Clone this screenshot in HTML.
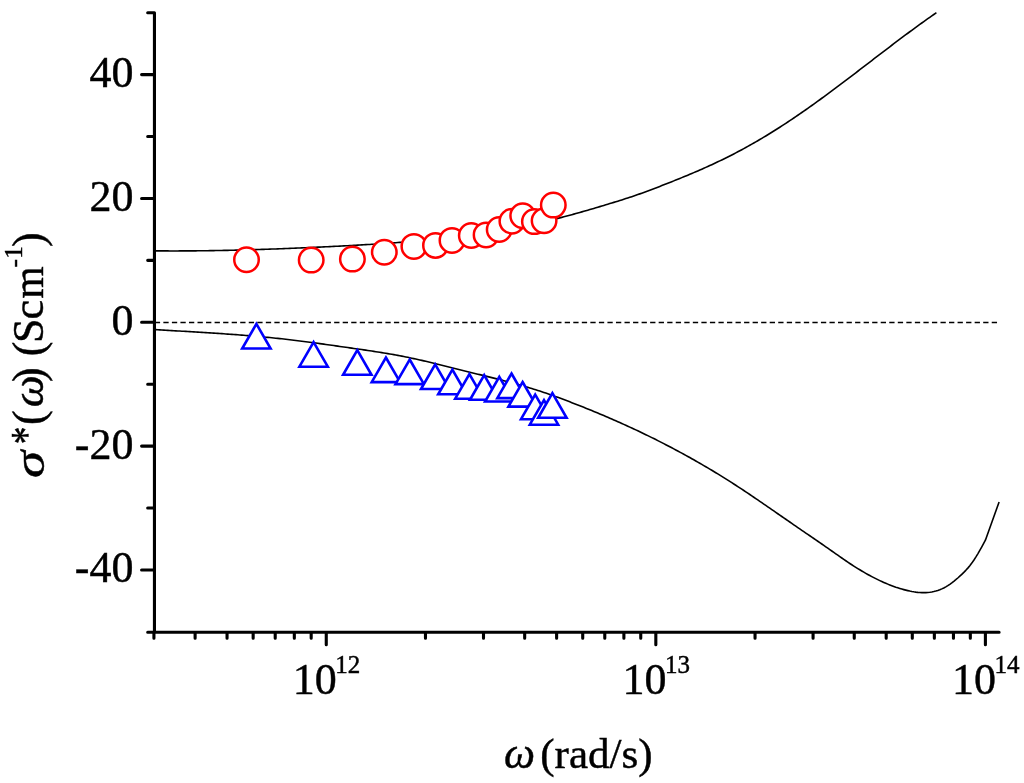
<!DOCTYPE html><html><head><meta charset="utf-8"><style>html,body{margin:0;padding:0;background:#fff;width:1024px;height:783px;overflow:hidden}svg{position:absolute;left:0;top:0;display:block;will-change:transform}text{font-family:"Liberation Serif",serif;stroke:#000;stroke-width:0.45px}</style></head><body>
<svg width="1024" height="783" viewBox="0 0 1024 783">
<line x1="154.81" y1="322.5" x2="999.1" y2="322.5" stroke="#000" stroke-width="1.4" stroke-dasharray="5.3 3.24"/>
<polyline points="155.8,250.86 157.8,250.88 159.8,250.89 161.8,250.90 163.8,250.91 165.8,250.92 167.8,250.92 169.8,250.93 171.8,250.93 173.8,250.93 175.8,250.93 177.8,250.93 179.8,250.92 181.8,250.92 183.8,250.91 185.8,250.90 187.8,250.89 189.8,250.88 191.8,250.86 193.8,250.84 195.8,250.83 197.8,250.81 199.8,250.79 201.8,250.76 203.8,250.74 205.8,250.71 207.8,250.69 209.8,250.66 211.8,250.63 213.8,250.60 215.8,250.56 217.8,250.53 219.8,250.49 221.8,250.45 223.8,250.41 225.8,250.37 227.8,250.33 229.8,250.29 231.8,250.24 233.8,250.20 235.8,250.15 237.8,250.10 239.8,250.05 241.8,250.00 243.8,249.95 245.8,249.89 247.8,249.84 249.8,249.78 251.8,249.72 253.8,249.66 255.8,249.60 257.8,249.54 259.8,249.48 261.8,249.41 263.8,249.35 265.8,249.28 267.8,249.21 269.8,249.14 271.8,249.07 273.8,249.00 275.8,248.93 277.8,248.85 279.8,248.78 281.8,248.70 283.8,248.63 285.8,248.55 287.8,248.47 289.8,248.39 291.8,248.31 293.8,248.23 295.8,248.15 297.8,248.06 299.8,247.98 301.8,247.89 303.8,247.80 305.8,247.72 307.8,247.63 309.8,247.54 311.8,247.45 313.8,247.36 315.8,247.27 317.8,247.17 319.8,247.08 321.8,246.98 323.8,246.89 325.8,246.79 327.8,246.70 329.8,246.60 331.8,246.50 333.8,246.40 335.8,246.30 337.8,246.20 339.8,246.10 341.8,246.00 343.8,245.89 345.8,245.79 347.8,245.68 349.8,245.57 351.8,245.47 353.8,245.36 355.8,245.25 357.8,245.14 359.8,245.02 361.8,244.91 363.8,244.79 365.8,244.67 367.8,244.55 369.8,244.43 371.8,244.31 373.8,244.19 375.8,244.06 377.8,243.93 379.8,243.80 381.8,243.67 383.8,243.54 385.8,243.40 387.8,243.26 389.8,243.12 391.8,242.98 393.8,242.84 395.8,242.69 397.8,242.54 399.8,242.39 401.8,242.23 403.8,242.08 405.8,241.92 407.8,241.76 409.8,241.59 411.8,241.43 413.8,241.26 415.8,241.08 417.8,240.91 419.8,240.73 421.8,240.55 423.8,240.36 425.8,240.17 427.8,239.98 429.8,239.79 431.8,239.59 433.8,239.39 435.8,239.19 437.8,238.98 439.8,238.77 441.8,238.56 443.8,238.34 445.8,238.12 447.8,237.89 449.8,237.66 451.8,237.43 453.8,237.19 455.8,236.95 457.8,236.71 459.8,236.46 461.8,236.21 463.8,235.95 465.8,235.69 467.8,235.43 469.8,235.16 471.8,234.89 473.8,234.61 475.8,234.33 477.8,234.04 479.8,233.75 481.8,233.46 483.8,233.16 485.8,232.85 487.8,232.55 489.8,232.23 491.8,231.91 493.8,231.59 495.8,231.26 497.8,230.93 499.8,230.59 501.8,230.25 503.8,229.90 505.8,229.55 507.8,229.19 509.8,228.82 511.8,228.46 513.8,228.08 515.8,227.70 517.8,227.32 519.8,226.93 521.8,226.53 523.8,226.13 525.8,225.72 527.8,225.31 529.8,224.89 531.8,224.46 533.8,224.03 535.8,223.59 537.8,223.15 539.8,222.70 541.8,222.25 543.8,221.79 545.8,221.32 547.8,220.85 549.8,220.37 551.8,219.88 553.8,219.39 555.8,218.89 557.8,218.39 559.8,217.87 561.8,217.36 563.8,216.83 565.8,216.30 567.8,215.77 569.8,215.23 571.8,214.68 573.8,214.13 575.8,213.58 577.8,213.02 579.8,212.45 581.8,211.89 583.8,211.31 585.8,210.74 587.8,210.16 589.8,209.58 591.8,208.99 593.8,208.40 595.8,207.81 597.8,207.21 599.8,206.62 601.8,206.02 603.8,205.42 605.8,204.81 607.8,204.21 609.8,203.60 611.8,202.99 613.8,202.38 615.8,201.77 617.8,201.15 619.8,200.52 621.8,199.89 623.8,199.26 625.8,198.61 627.8,197.96 629.8,197.31 631.8,196.64 633.8,195.96 635.8,195.28 637.8,194.58 639.8,193.88 641.8,193.17 643.8,192.44 645.8,191.71 647.8,190.97 649.8,190.23 651.8,189.47 653.8,188.71 655.8,187.95 657.8,187.18 659.8,186.40 661.8,185.62 663.8,184.84 665.8,184.05 667.8,183.26 669.8,182.46 671.8,181.67 673.8,180.87 675.8,180.06 677.8,179.26 679.8,178.44 681.8,177.63 683.8,176.81 685.8,175.98 687.8,175.15 689.8,174.31 691.8,173.47 693.8,172.62 695.8,171.76 697.8,170.90 699.8,170.03 701.8,169.16 703.8,168.27 705.8,167.38 707.8,166.48 709.8,165.57 711.8,164.65 713.8,163.73 715.8,162.79 717.8,161.84 719.8,160.89 721.8,159.92 723.8,158.95 725.8,157.96 727.8,156.97 729.8,155.96 731.8,154.95 733.8,153.92 735.8,152.88 737.8,151.83 739.8,150.77 741.8,149.70 743.8,148.62 745.8,147.52 747.8,146.42 749.8,145.30 751.8,144.17 753.8,143.03 755.8,141.88 757.8,140.72 759.8,139.54 761.8,138.36 763.8,137.16 765.8,135.95 767.8,134.74 769.8,133.51 771.8,132.27 773.8,131.02 775.8,129.76 777.8,128.49 779.8,127.21 781.8,125.92 783.8,124.62 785.8,123.32 787.8,122.00 789.8,120.67 791.8,119.34 793.8,117.99 795.8,116.64 797.8,115.27 799.8,113.90 801.8,112.52 803.8,111.13 805.8,109.73 807.8,108.33 809.8,106.91 811.8,105.49 813.8,104.06 815.8,102.62 817.8,101.18 819.8,99.73 821.8,98.27 823.8,96.81 825.8,95.34 827.8,93.87 829.8,92.39 831.8,90.90 833.8,89.41 835.8,87.92 837.8,86.42 839.8,84.91 841.8,83.41 843.8,81.90 845.8,80.38 847.8,78.86 849.8,77.34 851.8,75.82 853.8,74.30 855.8,72.77 857.8,71.24 859.8,69.71 861.8,68.18 863.8,66.65 865.8,65.12 867.8,63.58 869.8,62.05 871.8,60.52 873.8,58.98 875.8,57.45 877.8,55.92 879.8,54.39 881.8,52.86 883.8,51.33 885.8,49.81 887.8,48.29 889.8,46.77 891.8,45.25 893.8,43.73 895.8,42.22 897.8,40.71 899.8,39.21 901.8,37.71 903.8,36.21 905.8,34.72 907.8,33.24 909.8,31.76 911.8,30.28 913.8,28.81 915.8,27.35 917.8,25.89 919.8,24.44 921.8,22.99 923.8,21.56 925.8,20.12 927.8,18.70 929.8,17.29 931.8,15.88 933.8,14.48 935.8,13.09 936.4,12.67" fill="none" stroke="#000" stroke-width="1.6" stroke-linejoin="round"/>
<polyline points="155.8,329.63 157.8,329.75 159.8,329.87 161.8,329.99 163.8,330.11 165.8,330.23 167.8,330.35 169.8,330.47 171.8,330.59 173.8,330.71 175.8,330.83 177.8,330.94 179.8,331.06 181.8,331.18 183.8,331.30 185.8,331.42 187.8,331.54 189.8,331.65 191.8,331.77 193.8,331.89 195.8,332.01 197.8,332.14 199.8,332.26 201.8,332.38 203.8,332.50 205.8,332.63 207.8,332.75 209.8,332.88 211.8,333.01 213.8,333.14 215.8,333.27 217.8,333.40 219.8,333.53 221.8,333.67 223.8,333.80 225.8,333.94 227.8,334.08 229.8,334.22 231.8,334.37 233.8,334.51 235.8,334.66 237.8,334.81 239.8,334.96 241.8,335.12 243.8,335.28 245.8,335.44 247.8,335.60 249.8,335.76 251.8,335.93 253.8,336.10 255.8,336.27 257.8,336.45 259.8,336.63 261.8,336.81 263.8,337.00 265.8,337.19 267.8,337.38 269.8,337.57 271.8,337.77 273.8,337.98 275.8,338.18 277.8,338.39 279.8,338.60 281.8,338.82 283.8,339.04 285.8,339.27 287.8,339.50 289.8,339.73 291.8,339.97 293.8,340.21 295.8,340.45 297.8,340.70 299.8,340.95 301.8,341.21 303.8,341.46 305.8,341.72 307.8,341.98 309.8,342.25 311.8,342.52 313.8,342.79 315.8,343.06 317.8,343.33 319.8,343.61 321.8,343.88 323.8,344.16 325.8,344.44 327.8,344.72 329.8,345.01 331.8,345.29 333.8,345.57 335.8,345.86 337.8,346.14 339.8,346.43 341.8,346.72 343.8,347.00 345.8,347.29 347.8,347.57 349.8,347.86 351.8,348.15 353.8,348.43 355.8,348.72 357.8,349.00 359.8,349.29 361.8,349.58 363.8,349.87 365.8,350.16 367.8,350.46 369.8,350.76 371.8,351.06 373.8,351.36 375.8,351.67 377.8,351.98 379.8,352.30 381.8,352.62 383.8,352.94 385.8,353.27 387.8,353.61 389.8,353.95 391.8,354.29 393.8,354.65 395.8,355.01 397.8,355.37 399.8,355.75 401.8,356.13 403.8,356.52 405.8,356.92 407.8,357.32 409.8,357.74 411.8,358.16 413.8,358.60 415.8,359.03 417.8,359.48 419.8,359.93 421.8,360.39 423.8,360.86 425.8,361.33 427.8,361.80 429.8,362.28 431.8,362.76 433.8,363.25 435.8,363.73 437.8,364.22 439.8,364.72 441.8,365.21 443.8,365.71 445.8,366.20 447.8,366.70 449.8,367.19 451.8,367.69 453.8,368.19 455.8,368.69 457.8,369.19 459.8,369.68 461.8,370.18 463.8,370.68 465.8,371.18 467.8,371.68 469.8,372.17 471.8,372.67 473.8,373.17 475.8,373.66 477.8,374.16 479.8,374.65 481.8,375.14 483.8,375.63 485.8,376.13 487.8,376.62 489.8,377.12 491.8,377.61 493.8,378.11 495.8,378.61 497.8,379.12 499.8,379.62 501.8,380.13 503.8,380.65 505.8,381.17 507.8,381.69 509.8,382.22 511.8,382.76 513.8,383.30 515.8,383.85 517.8,384.40 519.8,384.97 521.8,385.54 523.8,386.12 525.8,386.70 527.8,387.30 529.8,387.91 531.8,388.53 533.8,389.15 535.8,389.79 537.8,390.44 539.8,391.09 541.8,391.76 543.8,392.43 545.8,393.11 547.8,393.80 549.8,394.50 551.8,395.21 553.8,395.92 555.8,396.64 557.8,397.37 559.8,398.10 561.8,398.84 563.8,399.59 565.8,400.34 567.8,401.10 569.8,401.87 571.8,402.64 573.8,403.41 575.8,404.19 577.8,404.98 579.8,405.77 581.8,406.56 583.8,407.36 585.8,408.16 587.8,408.97 589.8,409.78 591.8,410.60 593.8,411.42 595.8,412.25 597.8,413.08 599.8,413.91 601.8,414.76 603.8,415.60 605.8,416.46 607.8,417.31 609.8,418.18 611.8,419.05 613.8,419.92 615.8,420.80 617.8,421.68 619.8,422.57 621.8,423.47 623.8,424.37 625.8,425.28 627.8,426.19 629.8,427.11 631.8,428.03 633.8,428.96 635.8,429.90 637.8,430.84 639.8,431.79 641.8,432.74 643.8,433.70 645.8,434.67 647.8,435.64 649.8,436.62 651.8,437.60 653.8,438.59 655.8,439.59 657.8,440.60 659.8,441.61 661.8,442.62 663.8,443.65 665.8,444.68 667.8,445.71 669.8,446.76 671.8,447.81 673.8,448.86 675.8,449.93 677.8,451.00 679.8,452.08 681.8,453.16 683.8,454.25 685.8,455.35 687.8,456.46 689.8,457.57 691.8,458.69 693.8,459.82 695.8,460.96 697.8,462.10 699.8,463.25 701.8,464.41 703.8,465.57 705.8,466.74 707.8,467.92 709.8,469.11 711.8,470.31 713.8,471.51 715.8,472.72 717.8,473.94 719.8,475.17 721.8,476.40 723.8,477.65 725.8,478.90 727.8,480.16 729.8,481.42 731.8,482.70 733.8,483.98 735.8,485.28 737.8,486.58 739.8,487.88 741.8,489.20 743.8,490.52 745.8,491.85 747.8,493.19 749.8,494.53 751.8,495.88 753.8,497.23 755.8,498.59 757.8,499.95 759.8,501.31 761.8,502.68 763.8,504.05 765.8,505.43 767.8,506.81 769.8,508.19 771.8,509.57 773.8,510.95 775.8,512.33 777.8,513.72 779.8,515.11 781.8,516.49 783.8,517.88 785.8,519.26 787.8,520.65 789.8,522.03 791.8,523.41 793.8,524.79 795.8,526.17 797.8,527.55 799.8,528.92 801.8,530.30 803.8,531.67 805.8,533.04 807.8,534.41 809.8,535.77 811.8,537.14 813.8,538.51 815.8,539.89 817.8,541.26 819.8,542.64 821.8,544.02 823.8,545.40 825.8,546.79 827.8,548.18 829.8,549.58 831.8,550.98 833.8,552.39 835.8,553.80 837.8,555.21 839.8,556.62 841.8,558.02 843.8,559.40 845.8,560.77 847.8,562.13 849.8,563.46 851.8,564.77 853.8,566.06 855.8,567.33 857.8,568.57 859.8,569.80 861.8,570.99 863.8,572.17 865.8,573.32 867.8,574.44 869.8,575.54 871.8,576.61 873.8,577.65 875.8,578.66 877.8,579.65 879.8,580.61 881.8,581.53 883.8,582.43 885.8,583.30 887.8,584.13 889.8,584.94 891.8,585.71 893.8,586.44 895.8,587.15 897.8,587.81 899.8,588.45 901.8,589.05 903.8,589.61 905.8,590.13 907.8,590.62 909.8,591.07 911.8,591.47 913.8,591.82 915.8,592.12 917.8,592.35 919.8,592.52 921.8,592.63 923.8,592.66 925.8,592.61 927.8,592.48 929.8,592.27 931.8,591.96 933.8,591.55 935.8,591.05 937.8,590.44 939.8,589.72 941.8,588.88 943.8,587.92 945.8,586.85 947.8,585.64 949.8,584.32 951.8,582.89 953.8,581.35 955.8,579.72 957.8,578.00 959.8,576.20 961.8,574.32 963.8,572.37 965.8,570.32 967.8,568.12 969.8,565.72 971.8,563.09 973.8,560.22 975.8,557.13 977.8,553.86 979.8,550.42 981.8,546.84 983.8,543.17 985.4,540.17 992.2,521.2 999.1,502.0" fill="none" stroke="#000" stroke-width="1.6" stroke-linejoin="round"/>
<path d="M256.40,323.90 L270.60,348.50 L242.20,348.50 Z" fill="#fff" stroke="#00f" stroke-width="2.6" stroke-linejoin="miter" stroke-miterlimit="4"/>
<path d="M313.60,342.10 L327.80,366.70 L299.40,366.70 Z" fill="#fff" stroke="#00f" stroke-width="2.6" stroke-linejoin="miter" stroke-miterlimit="4"/>
<path d="M357.30,350.20 L371.50,374.80 L343.10,374.80 Z" fill="#fff" stroke="#00f" stroke-width="2.6" stroke-linejoin="miter" stroke-miterlimit="4"/>
<path d="M385.90,357.50 L400.10,382.10 L371.70,382.10 Z" fill="#fff" stroke="#00f" stroke-width="2.6" stroke-linejoin="miter" stroke-miterlimit="4"/>
<path d="M409.70,359.50 L423.90,384.10 L395.50,384.10 Z" fill="#fff" stroke="#00f" stroke-width="2.6" stroke-linejoin="miter" stroke-miterlimit="4"/>
<path d="M435.20,364.40 L449.40,389.00 L421.00,389.00 Z" fill="#fff" stroke="#00f" stroke-width="2.6" stroke-linejoin="miter" stroke-miterlimit="4"/>
<path d="M452.40,369.70 L466.60,394.30 L438.20,394.30 Z" fill="#fff" stroke="#00f" stroke-width="2.6" stroke-linejoin="miter" stroke-miterlimit="4"/>
<path d="M469.40,374.10 L483.60,398.70 L455.20,398.70 Z" fill="#fff" stroke="#00f" stroke-width="2.6" stroke-linejoin="miter" stroke-miterlimit="4"/>
<path d="M484.20,375.20 L498.40,399.80 L470.00,399.80 Z" fill="#fff" stroke="#00f" stroke-width="2.6" stroke-linejoin="miter" stroke-miterlimit="4"/>
<path d="M499.30,376.90 L513.50,401.50 L485.10,401.50 Z" fill="#fff" stroke="#00f" stroke-width="2.6" stroke-linejoin="miter" stroke-miterlimit="4"/>
<path d="M511.50,373.50 L525.70,398.10 L497.30,398.10 Z" fill="#fff" stroke="#00f" stroke-width="2.6" stroke-linejoin="miter" stroke-miterlimit="4"/>
<path d="M522.60,382.00 L536.80,406.60 L508.40,406.60 Z" fill="#fff" stroke="#00f" stroke-width="2.6" stroke-linejoin="miter" stroke-miterlimit="4"/>
<path d="M535.20,394.60 L549.40,419.20 L521.00,419.20 Z" fill="#fff" stroke="#00f" stroke-width="2.6" stroke-linejoin="miter" stroke-miterlimit="4"/>
<path d="M544.00,400.10 L558.20,424.70 L529.80,424.70 Z" fill="#fff" stroke="#00f" stroke-width="2.6" stroke-linejoin="miter" stroke-miterlimit="4"/>
<path d="M552.40,393.20 L566.60,417.80 L538.20,417.80 Z" fill="#fff" stroke="#00f" stroke-width="2.6" stroke-linejoin="miter" stroke-miterlimit="4"/>
<circle cx="246.5" cy="259.7" r="12.25" fill="#fff" stroke="#f00" stroke-width="2.5"/>
<circle cx="311.2" cy="260.1" r="12.25" fill="#fff" stroke="#f00" stroke-width="2.5"/>
<circle cx="352.4" cy="259.1" r="12.25" fill="#fff" stroke="#f00" stroke-width="2.5"/>
<circle cx="384.3" cy="252.3" r="12.25" fill="#fff" stroke="#f00" stroke-width="2.5"/>
<circle cx="413.9" cy="246.4" r="12.25" fill="#fff" stroke="#f00" stroke-width="2.5"/>
<circle cx="435.5" cy="245.4" r="12.25" fill="#fff" stroke="#f00" stroke-width="2.5"/>
<circle cx="452" cy="240.4" r="12.25" fill="#fff" stroke="#f00" stroke-width="2.5"/>
<circle cx="471.3" cy="235.5" r="12.25" fill="#fff" stroke="#f00" stroke-width="2.5"/>
<circle cx="486.1" cy="234.9" r="12.25" fill="#fff" stroke="#f00" stroke-width="2.5"/>
<circle cx="499.2" cy="229.5" r="12.25" fill="#fff" stroke="#f00" stroke-width="2.5"/>
<circle cx="511.9" cy="221.2" r="12.25" fill="#fff" stroke="#f00" stroke-width="2.5"/>
<circle cx="522.7" cy="215.7" r="12.25" fill="#fff" stroke="#f00" stroke-width="2.5"/>
<circle cx="534.4" cy="221.6" r="12.25" fill="#fff" stroke="#f00" stroke-width="2.5"/>
<circle cx="544.1" cy="220.8" r="12.25" fill="#fff" stroke="#f00" stroke-width="2.5"/>
<circle cx="553.3" cy="205.1" r="12.25" fill="#fff" stroke="#f00" stroke-width="2.5"/>
<path d="M154.45,12.70 V632.20 H999.10 M147.70,632.20 H154.45 M141.60,569.93 H154.45 M147.70,508.01 H154.45 M141.60,446.10 H154.45 M147.70,384.18 H154.45 M141.60,322.27 H154.45 M147.70,260.36 H154.45 M141.60,198.44 H154.45 M147.70,136.53 H154.45 M141.60,74.61 H154.45 M147.70,12.70 H154.45 M153.93,632.20 V638.30 M195.11,632.20 V638.30 M227.05,632.20 V638.30 M253.15,632.20 V638.30 M275.21,632.20 V638.30 M294.32,632.20 V638.30 M311.18,632.20 V638.30 M326.26,632.20 V644.70 M425.47,632.20 V638.30 M483.50,632.20 V638.30 M524.68,632.20 V638.30 M556.62,632.20 V638.30 M582.72,632.20 V638.30 M604.78,632.20 V638.30 M623.89,632.20 V638.30 M640.75,632.20 V638.30 M655.83,632.20 V644.70 M755.04,632.20 V638.30 M813.07,632.20 V638.30 M854.25,632.20 V638.30 M886.19,632.20 V638.30 M912.29,632.20 V638.30 M934.35,632.20 V638.30 M953.46,632.20 V638.30 M970.32,632.20 V638.30 M985.40,632.20 V644.70" fill="none" stroke="#000" stroke-width="3.1" stroke-linecap="round" stroke-linejoin="round"/>
<text x="133.4" y="87.11" font-size="44" text-anchor="end">40</text>
<text x="133.4" y="210.94" font-size="44" text-anchor="end">20</text>
<text x="133.4" y="334.77" font-size="44" text-anchor="end">0</text>
<text x="133.4" y="458.60" font-size="44" text-anchor="end">-20</text>
<text x="133.4" y="582.43" font-size="44" text-anchor="end">-40</text>
<text x="292.86" y="694" font-size="44">10</text><text x="335.36" y="673" font-size="25">12</text>
<text x="622.43" y="694" font-size="44">10</text><text x="664.93" y="673" font-size="25">13</text>
<text x="952.00" y="694" font-size="44">10</text><text x="994.50" y="673" font-size="25">14</text>
<text x="504.0" y="768" font-size="44" font-style="italic">ω</text><text x="540.3" y="768" font-size="43">(rad/s)</text>
<text transform="translate(43.80,477.95) rotate(-90) scale(1.255,1)" font-size="44" font-style="italic">σ</text>
<text transform="translate(41.10,444.24) rotate(-90) scale(0.8,1)" font-size="44">*</text>
<text transform="translate(42.60,424.90) rotate(-90)" font-size="44">(</text>
<text transform="translate(42.60,407.30) rotate(-90) scale(1.03,1)" font-size="44" font-style="italic">ω</text>
<text transform="translate(42.60,382.00) rotate(-90)" font-size="44">)</text>
<text transform="translate(42.60,356.30) rotate(-90)" font-size="44">(</text>
<text transform="translate(42.60,343.00) rotate(-90)" font-size="44">S</text>
<text transform="translate(42.60,319.40) rotate(-90)" font-size="44">c</text>
<text transform="translate(42.60,298.70) rotate(-90) scale(0.95,1)" font-size="44">m</text>
<text transform="translate(22.00,267.40) rotate(-90)" font-size="25">-</text>
<text transform="translate(22.00,258.80) rotate(-90)" font-size="25">1</text>
<text transform="translate(42.60,247.00) rotate(-90)" font-size="44">)</text>
</svg></body></html>
